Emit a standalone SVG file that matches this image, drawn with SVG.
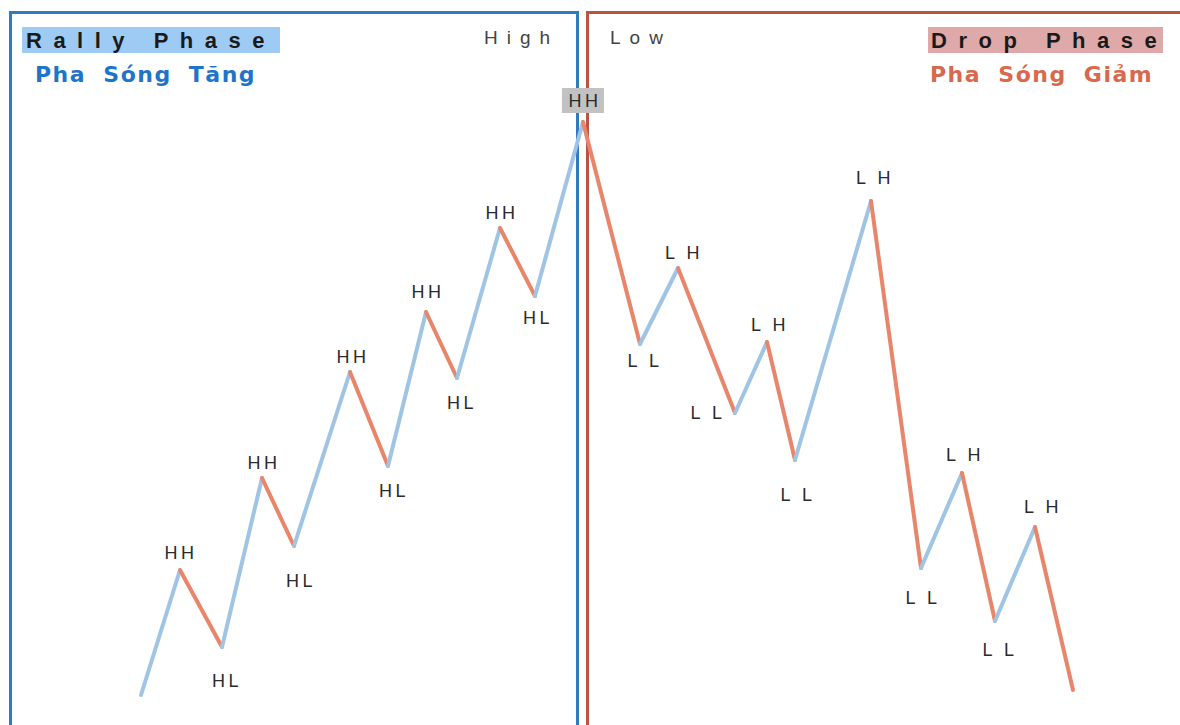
<svg xmlns="http://www.w3.org/2000/svg" width="1180" height="725" viewBox="0 0 1180 725">
<style>
.up{stroke:#9fc4e4;stroke-width:4;stroke-linecap:round;fill:none}
.dn{stroke:#e8856b;stroke-width:4;stroke-linecap:round;fill:none}
.lbl{font-family:"Liberation Sans",Arial,sans-serif;font-size:18px;fill:#2b2b2b;text-anchor:middle;letter-spacing:3.5px}
.title{font-family:"Liberation Sans",Arial,sans-serif;font-size:22px;font-weight:bold;fill:#1a1a1a;letter-spacing:11.5px}
.sub{font-family:"DejaVu Sans",Verdana,sans-serif;font-size:22px;font-weight:bold;letter-spacing:1.5px;word-spacing:8px}
.hl{font-family:"Liberation Sans",Arial,sans-serif;font-size:19px;fill:#444;letter-spacing:9px}
</style>
<rect width="1180" height="725" fill="#ffffff"/>
<g id="rally-panel">
<path d="M10.5,727 V12.5 H577.5 V727" fill="none" stroke="#2f7bc0" stroke-width="3"/>
<rect x="22" y="27" width="258" height="26" fill="#9ecbf4"/>
<text class="title" x="26" y="48">Rally Phase</text>
<text class="sub" x="35" y="82" fill="#1f74c9">Pha Sóng Tăng</text>
<text class="hl" x="484" y="44">High</text>
</g>
<g id="drop-panel">
<path d="M587.5,727 V12.5 H1182" fill="none" stroke="#b9553f" stroke-width="3"/>
<rect x="928" y="27" width="235" height="26" fill="#dfa9a9"/>
<text class="title" x="931" y="48">Drop Phase</text>
<text class="sub" x="930" y="82" fill="#d8684e">Pha Sóng Giảm</text>
<text class="hl" x="610" y="44">Low</text>
</g>
<g id="connectors">
<path class="up" d="M141,695 L180,570"/>
<path class="dn" d="M180,570 L222,647"/>
<path class="up" d="M222,647 L262,478"/>
<path class="dn" d="M262,478 L294,546"/>
<path class="up" d="M294,546 L350,372"/>
<path class="dn" d="M350,372 L388,466"/>
<path class="up" d="M388,466 L426,312"/>
<path class="dn" d="M426,312 L457,378"/>
<path class="up" d="M457,378 L500,228"/>
<path class="dn" d="M500,228 L535,296"/>
<path class="up" d="M535,296 L583,122"/>
<path class="dn" d="M583,122 L640,344"/>
<path class="up" d="M640,344 L678,268"/>
<path class="dn" d="M678,268 L735,413"/>
<path class="up" d="M735,413 L767,342"/>
<path class="dn" d="M767,342 L795,460"/>
<path class="up" d="M795,460 L871,201"/>
<path class="dn" d="M871,201 L921,568"/>
<path class="up" d="M921,568 L962,473"/>
<path class="dn" d="M962,473 L995,621"/>
<path class="up" d="M995,621 L1035,527"/>
<path class="dn" d="M1035,527 L1073,690"/>
</g>
<g id="top-hh">
<rect x="562" y="88" width="42" height="25" fill="#c2c2c2"/>
<text class="lbl" x="585" y="107">HH</text>
</g>
<g id="labels-rally">
<text class="lbl" x="181" y="559">HH</text>
<text class="lbl" x="227" y="687">HL</text>
<text class="lbl" x="264" y="469">HH</text>
<text class="lbl" x="301" y="587">HL</text>
<text class="lbl" x="353" y="363">HH</text>
<text class="lbl" x="394" y="497">HL</text>
<text class="lbl" x="428" y="298">HH</text>
<text class="lbl" x="462" y="409">HL</text>
<text class="lbl" x="502" y="219">HH</text>
<text class="lbl" x="538" y="324">HL</text>
</g>
<g id="labels-drop">
<text class="lbl" x="645" y="367">L L</text>
<text class="lbl" x="684" y="259">L H</text>
<text class="lbl" x="708" y="419">L L</text>
<text class="lbl" x="770" y="331">L H</text>
<text class="lbl" x="798" y="501">L L</text>
<text class="lbl" x="875" y="184">L H</text>
<text class="lbl" x="923" y="604">L L</text>
<text class="lbl" x="965" y="461">L H</text>
<text class="lbl" x="1000" y="656">L L</text>
<text class="lbl" x="1043" y="513">L H</text>
</g>
</svg>
